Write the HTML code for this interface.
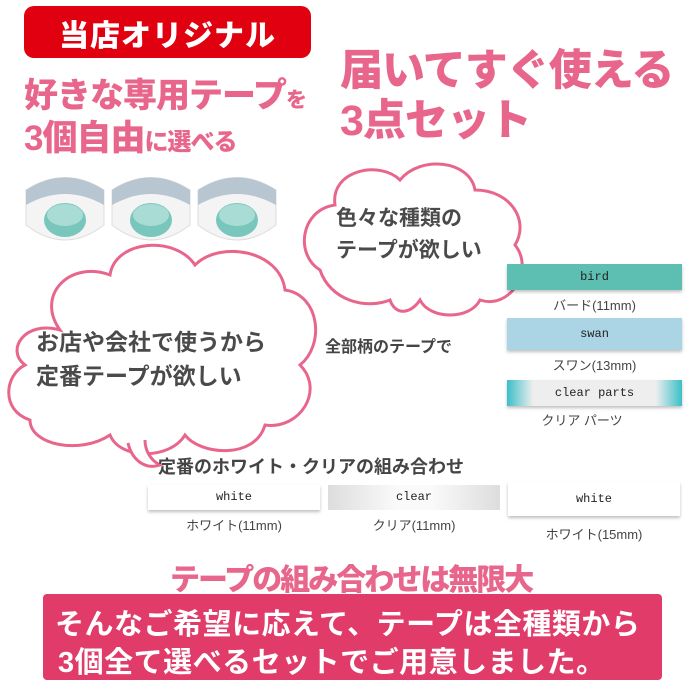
<!DOCTYPE html>
<html><head><meta charset="utf-8"><style>
body{margin:0;width:700px;height:700px;background:#fff;position:relative;overflow:hidden;font-family:"Liberation Sans","Noto Sans CJK JP",sans-serif;}
.a{position:absolute;white-space:nowrap;}
.pk{color:#e8668c;font-weight:900;}
.g{color:#444;font-weight:bold;}
.tape{position:absolute;box-shadow:0 2px 3px rgba(0,0,0,.25);text-align:center;font-family:"Liberation Mono",monospace;font-size:12px;color:#222;}
.lbl{position:absolute;font-size:13px;color:#444;text-align:center;}
</style></head><body>
<div class="a" style="left:24px;top:6px;width:287px;height:52px;background:#e1000f;border-radius:10px;"></div>
<div class="a" style="left:24px;top:11px;width:287px;text-align:center;color:#fff;font-size:30px;font-weight:900;letter-spacing:1px;">当店オリジナル</div>
<div class="a pk" style="left:24px;top:68px;font-size:34px;letter-spacing:-1px;">好きな専用テープ<span style="font-size:21px">を</span></div>
<div class="a pk" style="left:24px;top:110px;font-size:35px;letter-spacing:-1px;">3個自由<span style="font-size:24px">に選べる</span></div>
<div class="a pk" style="left:340px;top:36px;font-size:43px;letter-spacing:-1px;">届いてすぐ使える</div>
<div class="a pk" style="left:340px;top:86px;font-size:43px;letter-spacing:-1px;">3点セット</div>

<svg class="a" style="left:0;top:165px" width="300" height="90">
<g id="r"><path d="M26 25 Q65 0 104 25 L104 60 Q65 90 26 60Z" fill="#f4f4f4" stroke="#ddd"/><path d="M26 25 Q65 0 104 25 L104 40 Q65 18 26 40Z" fill="#b8c6d2"/><ellipse cx="65" cy="55" rx="21" ry="17" fill="#79c6bd"/><ellipse cx="65" cy="50" rx="18" ry="11" fill="#a9dcd4"/></g>
<use href="#r" x="86"/><use href="#r" x="172"/>
</svg>

<svg class="a" style="left:0;top:150px" width="700" height="330">
<path d="M320 120 C295 105 300 60 335 55 C330 20 380 10 400 30 C420 5 470 10 475 40 C510 40 530 70 515 95 C535 120 510 160 480 150 C470 170 430 170 420 150 C410 165 395 165 390 150 C365 160 330 150 320 120Z" fill="#fff" stroke="#e8668c" stroke-width="3"/>
<g transform="translate(0,35)">
<path d="M60 145 C35 110 70 75 110 90 C115 55 175 50 195 80 C220 55 280 65 285 105 C320 110 325 160 300 180 C325 205 300 245 265 240 C255 275 200 270 185 250 C170 275 120 275 110 250 C80 270 30 260 30 235 C0 225 5 190 25 180 C5 165 25 135 60 145Z" fill="#fff" stroke="#e8668c" stroke-width="3"/>
<path d="M128 258 C132 275 145 285 160 280 C150 275 145 265 145 255" fill="#fff" stroke="#e8668c" stroke-width="3"/>
</g>
</svg>
<div class="a g" style="left:336px;top:202px;font-size:21px;color:#4a4a4a;">色々な種類の</div>
<div class="a g" style="left:336px;top:234px;font-size:21px;color:#4a4a4a;">テープが欲しい</div>
<div class="a g" style="left:36px;top:323px;font-size:23px;color:#4a4a4a;">お店や会社で使うから</div>
<div class="a g" style="left:36px;top:357px;font-size:23px;color:#4a4a4a;">定番テープが欲しい</div>
<div class="a g" style="left:325px;top:333px;font-size:16px;">全部柄のテープで</div>

<div class="tape" style="left:507px;top:264px;width:175px;height:26px;line-height:26px;background:#5cbfb1;">bird</div>
<div class="lbl" style="left:507px;top:295px;width:175px;">バード(11mm)</div>
<div class="tape" style="left:507px;top:318px;width:175px;height:32px;line-height:32px;background:#abd5e5;">swan</div>
<div class="lbl" style="left:507px;top:355px;width:175px;">スワン(13mm)</div>
<div class="tape" style="left:507px;top:380px;width:175px;height:26px;line-height:26px;background:linear-gradient(90deg,#3bbfc8 0,#eee 15%,#eee 85%,#3bbfc8 100%);">clear parts</div>
<div class="lbl" style="left:507px;top:410px;width:150px;">クリア パーツ</div>

<div class="a g" style="left:158px;top:453px;font-size:18px;">定番のホワイト・クリアの組み合わせ</div>
<div class="tape" style="left:148px;top:485px;width:172px;height:25px;line-height:25px;background:#fff;">white</div>
<div class="lbl" style="left:148px;top:515px;width:172px;">ホワイト(11mm)</div>
<div class="tape" style="left:328px;top:485px;width:172px;height:25px;line-height:25px;background:linear-gradient(90deg,#ddd,#fafafa 40%,#fafafa 60%,#ddd);box-shadow:none;">clear</div>
<div class="lbl" style="left:328px;top:515px;width:172px;">クリア(11mm)</div>
<div class="tape" style="left:508px;top:482px;width:172px;height:34px;line-height:34px;background:#fff;">white</div>
<div class="lbl" style="left:508px;top:524px;width:172px;">ホワイト(15mm)</div>

<div class="a pk" style="left:170px;top:555px;font-size:30px;letter-spacing:-2px;">テープの組み合わせは無限大</div>
<div class="a" style="left:43px;top:594px;width:619px;height:86px;background:#e03b69;border-radius:4px;"></div>
<div class="a" style="left:55px;top:601px;color:#fff;font-size:29px;font-weight:bold;letter-spacing:0.5px;">そんなご希望に応えて、テープは全種類から</div>
<div class="a" style="left:58px;top:639px;color:#fff;font-size:29px;font-weight:bold;letter-spacing:0.5px;">3個全て選べるセットでご用意しました。</div>
</body></html>
